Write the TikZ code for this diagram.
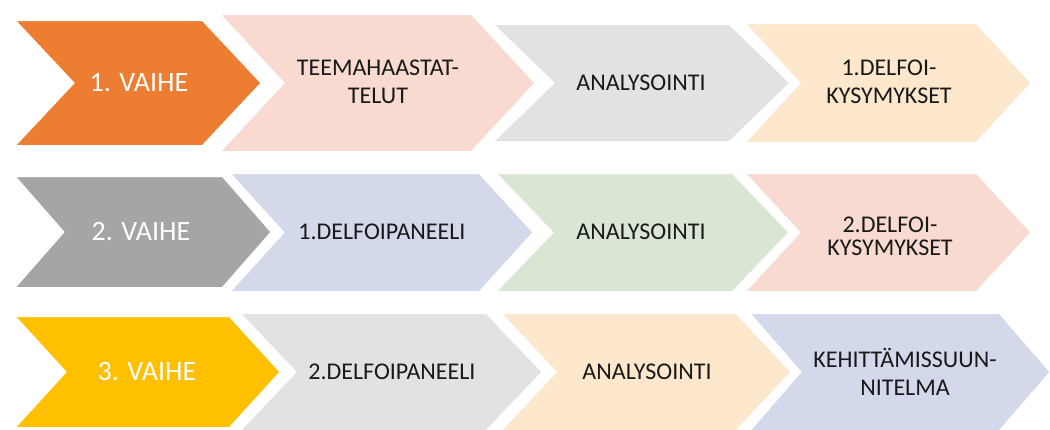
\documentclass[tikz,border=0pt]{standalone}
\usepackage{fontspec}
\setmainfont{Carlito}
\definecolor{cOrange}{HTML}{ED7D31}
\definecolor{cPink}{HTML}{F8DAD1}
\definecolor{cLGray}{HTML}{E2E2E2}
\definecolor{cPeach}{HTML}{FDE8CE}
\definecolor{cMGray}{HTML}{A5A5A5}
\definecolor{cLav}{HTML}{D3D8EA}
\definecolor{cGreen}{HTML}{D9E6D4}
\definecolor{cYellow}{HTML}{FFC000}
\newcommand\chevshape[6]{% fill, L, T, B, R, depth
  \filldraw[chevbox, fill=#1] (#2,-#3) -- (#5,-#3) -- ({#5+#6},{-(#3+#4)/2}) -- (#5,-#4) -- (#2,-#4) -- ({#2+#6},{-(#3+#4)/2}) -- cycle;}
\tikzset{
  chevbox/.style={draw=white, line width=4pt, line join=miter},
  wtxt/.style={text=white, font=\fontsize{28}{32}\selectfont, inner sep=0pt},
  btxt/.style={text=black!90, font=\fontsize{24}{28}\selectfont, align=center, inner sep=0pt},
}
\begin{document}
\begin{tikzpicture}[x=1pt,y=1pt]
\useasboundingbox (0,0) rectangle (1050,-429);
\fill[white] (0,0) rectangle (1050,-429);
\clip (0,0) rectangle (1050,-429);
% Row 1
\chevshape{cOrange}{12}{19}{147}{203}{60}
\chevshape{cPink}{217}{13}{153}{472}{65}
\chevshape{cLGray}{490}{23}{143}{730}{62}
\chevshape{cPeach}{742}{22}{144}{977}{56}
\node[wtxt] (a1) at (139,-83) {1. VAIHE};
\node[btxt] (a2) at (378,-82) {TEEMAHAASTAT-\\TELUT};
\node[btxt] (a3) at (641,-83) {ANALYSOINTI};
\node[btxt] (a4) at (889,-82) {1.DELFOI-\\KYSYMYKSET};
% Row 2
\chevshape{cMGray}{12}{175}{289}{223}{50}
\chevshape{cLav}{227}{172}{293}{480}{55}
\chevshape{cGreen}{493}{172}{293}{733}{58}
\chevshape{cPink}{742}{172}{293}{977}{56}
\node[wtxt] (b1) at (141,-232) {2. VAIHE};
\node[btxt] (b2) at (382,-232) {1.DELFOIPANEELI};
\node[btxt] (b3) at (641,-232) {ANALYSOINTI};
\node[btxt, font=\fontsize{24}{23}\selectfont] (b4) at (890,-236) {2.DELFOI-\\KYSYMYKSET};
% Row 3
\chevshape{cYellow}{12}{315}{429}{230}{52}
\chevshape{cLGray}{237}{312}{432}{487}{57}
\chevshape{cPeach}{498}{312}{432}{737}{56}
\chevshape{cLav}{747}{312}{432}{1000}{52}
\node[wtxt] (c1) at (147,-372) {3. VAIHE};
\node[btxt] (c2) at (392,-372) {2.DELFOIPANEELI};
\node[btxt] (c3) at (647,-372) {ANALYSOINTI};
\node[btxt] (c4) at (905,-372) {KEHITTÄMISSUUN-\\NITELMA};
\end{tikzpicture}
\end{document}
